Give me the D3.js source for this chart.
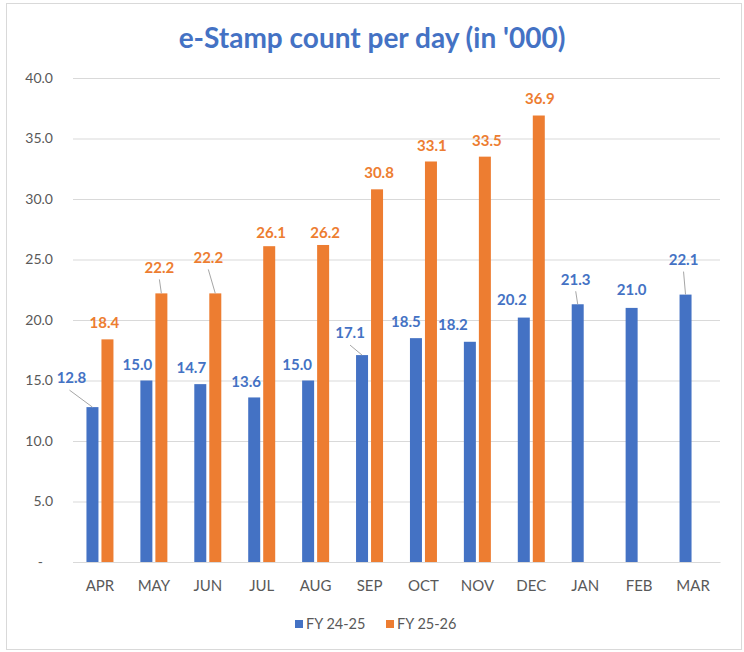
<!DOCTYPE html>
<html>
<head>
<meta charset="utf-8">
<script src="https://cdn.jsdelivr.net/npm/d3@7"></script>
<style>
  body { margin: 0; background: #fff; }
  text { font-family: Lato, "Open Sans", sans-serif; }
</style>
</head>
<body>
<div id="chart"></div>
<script>
// data
const months = ["APR", "MAY", "JUN", "JUL", "AUG", "SEP", "OCT", "NOV", "DEC", "JAN", "FEB", "MAR"];
const fy2425 = [12.8, 15.0, 14.7, 13.6, 15.0, 17.1, 18.5, 18.2, 20.2, 21.3, 21.0, 22.1];
const fy2526 = [18.4, 22.2, 22.2, 26.1, 26.2, 30.8, 33.1, 33.5, 36.9, null, null, null];
const yTicks = [0, 5, 10, 15, 20, 25, 30, 35, 40];
const seriesNames = ["FY 24-25", "FY 25-26"];
const colors = ["#4472C4", "#ED7D31"];

// label nudges relative to bar top centre (dx, dy of label centre), and leader-line flags
const blueNudge = [[-21, -29], [-9, -16], [-9, -16], [-8, -16], [-11, -16], [-12, -22], [-10, -16], [-17, -17], [-12, -18], [-2, -25], [0, -18], [-2, -35]];
const orangeNudge = [[-3, -17], [-2, -26], [-7, -36], [2, -13], [2, -12], [2, -17], [1, -16], [2, -16], [1, -17]];
const blueLeader = [true, false, false, false, false, true, false, false, false, true, false, true];
const orangeLeader = [false, true, true, false, false, false, false, false, false];

const W = 744, H = 652;
const margin = { left: 73, right: 24, top: 78, bottom: 90 };
const width = W - margin.left - margin.right,
      height = H - margin.top - margin.bottom;

const svg = d3.select("#chart").append("svg")
  .attr("width", W).attr("height", H);

svg.append("rect")
  .attr("x", 6.5).attr("y", 3.5)
  .attr("width", 735).attr("height", 646)
  .attr("fill", "#fff").attr("stroke", "#d9d9d9");

svg.append("text")
  .attr("x", 372).attr("y", 48)
  .attr("text-anchor", "middle")
  .attr("fill", "#4472C4")
  .style("font-size", "28px")
  .style("font-weight", "bold")
  .text("e-Stamp count per day (in '000)");

const g = svg.append("g")
  .attr("transform", `translate(${margin.left},${margin.top})`);

const x = d3.scaleBand().domain(months).range([0, width]);
const y = d3.scaleLinear().domain([0, 40]).range([height, 0]);
const barW = 12, gap = 3;

// grid
const yAxis = d3.axisLeft(y)
  .tickValues(yTicks)
  .tickSize(-width)
  .tickPadding(20)
  .tickFormat(d => d === 0 ? "-" : d3.format(".1f")(d));
const yAxisG = g.append("g").call(yAxis);
yAxisG.select(".domain").remove();
yAxisG.selectAll(".tick line").attr("stroke", "#d9d9d9");
yAxisG.selectAll(".tick text")
  .attr("fill", "#595959")
  .style("font-size", "14px")
  .attr("dx", d => d === 0 ? -10 : 0);

const xAxis = d3.axisBottom(x).tickSize(0).tickPadding(18);
const xAxisG = g.append("g").attr("transform", `translate(0,${height})`).call(xAxis);
xAxisG.select(".domain").attr("stroke", "#d9d9d9");
xAxisG.selectAll(".tick text")
  .attr("fill", "#595959")
  .style("font-size", "15px");

// bars
const series = [fy2425, fy2526];
const nudges = [blueNudge, orangeNudge];
const leaders = [blueLeader, orangeLeader];

series.forEach(function(vals, s) {
  const cx = (m) => x(m) + x.bandwidth() / 2 + (s === 0 ? -(barW + gap) / 2 : (barW + gap) / 2);
  const data = vals.map((v, i) => ({ m: months[i], v: v, i: i })).filter(d => d.v != null);

  g.append("g").selectAll("rect")
    .data(data)
    .enter().append("rect")
    .attr("x", d => cx(d.m) - barW / 2)
    .attr("y", d => y(d.v))
    .attr("width", barW)
    .attr("height", d => height - y(d.v))
    .attr("fill", colors[s]);

  // leader lines
  g.append("g").selectAll("line")
    .data(data.filter(d => leaders[s][d.i]))
    .enter().append("line")
    .attr("x1", d => cx(d.m) + nudges[s][d.i][0] + (s === 0 && d.i === 0 ? -2 : 0))
    .attr("y1", d => y(d.v) + nudges[s][d.i][1] + 12)
    .attr("x2", d => cx(d.m))
    .attr("y2", d => y(d.v))
    .attr("stroke", "#a6a6a6")
    .attr("stroke-width", 1);

  g.append("g").selectAll("text")
    .data(data)
    .enter().append("text")
    .attr("x", d => cx(d.m) + nudges[s][d.i][0])
    .attr("y", d => y(d.v) + nudges[s][d.i][1])
    .attr("dy", "0.35em")
    .attr("text-anchor", "middle")
    .attr("fill", colors[s])
    .style("font-size", "15px")
    .style("font-weight", "bold")
    .text(d => d3.format(".1f")(d.v));
});

// legend
const legend = svg.append("g").attr("transform", "translate(295,624)");
const items = legend.selectAll("g")
  .data(seriesNames)
  .enter().append("g")
  .attr("transform", (d, i) => `translate(${i * 91},0)`);
items.append("rect")
  .attr("x", 0).attr("y", -4)
  .attr("width", 8).attr("height", 8)
  .attr("fill", (d, i) => colors[i]);
items.append("text")
  .attr("x", 11).attr("dy", "0.35em")
  .attr("fill", "#595959")
  .style("font-size", "14.5px")
  .text(d => d);
</script>
</body>
</html>
